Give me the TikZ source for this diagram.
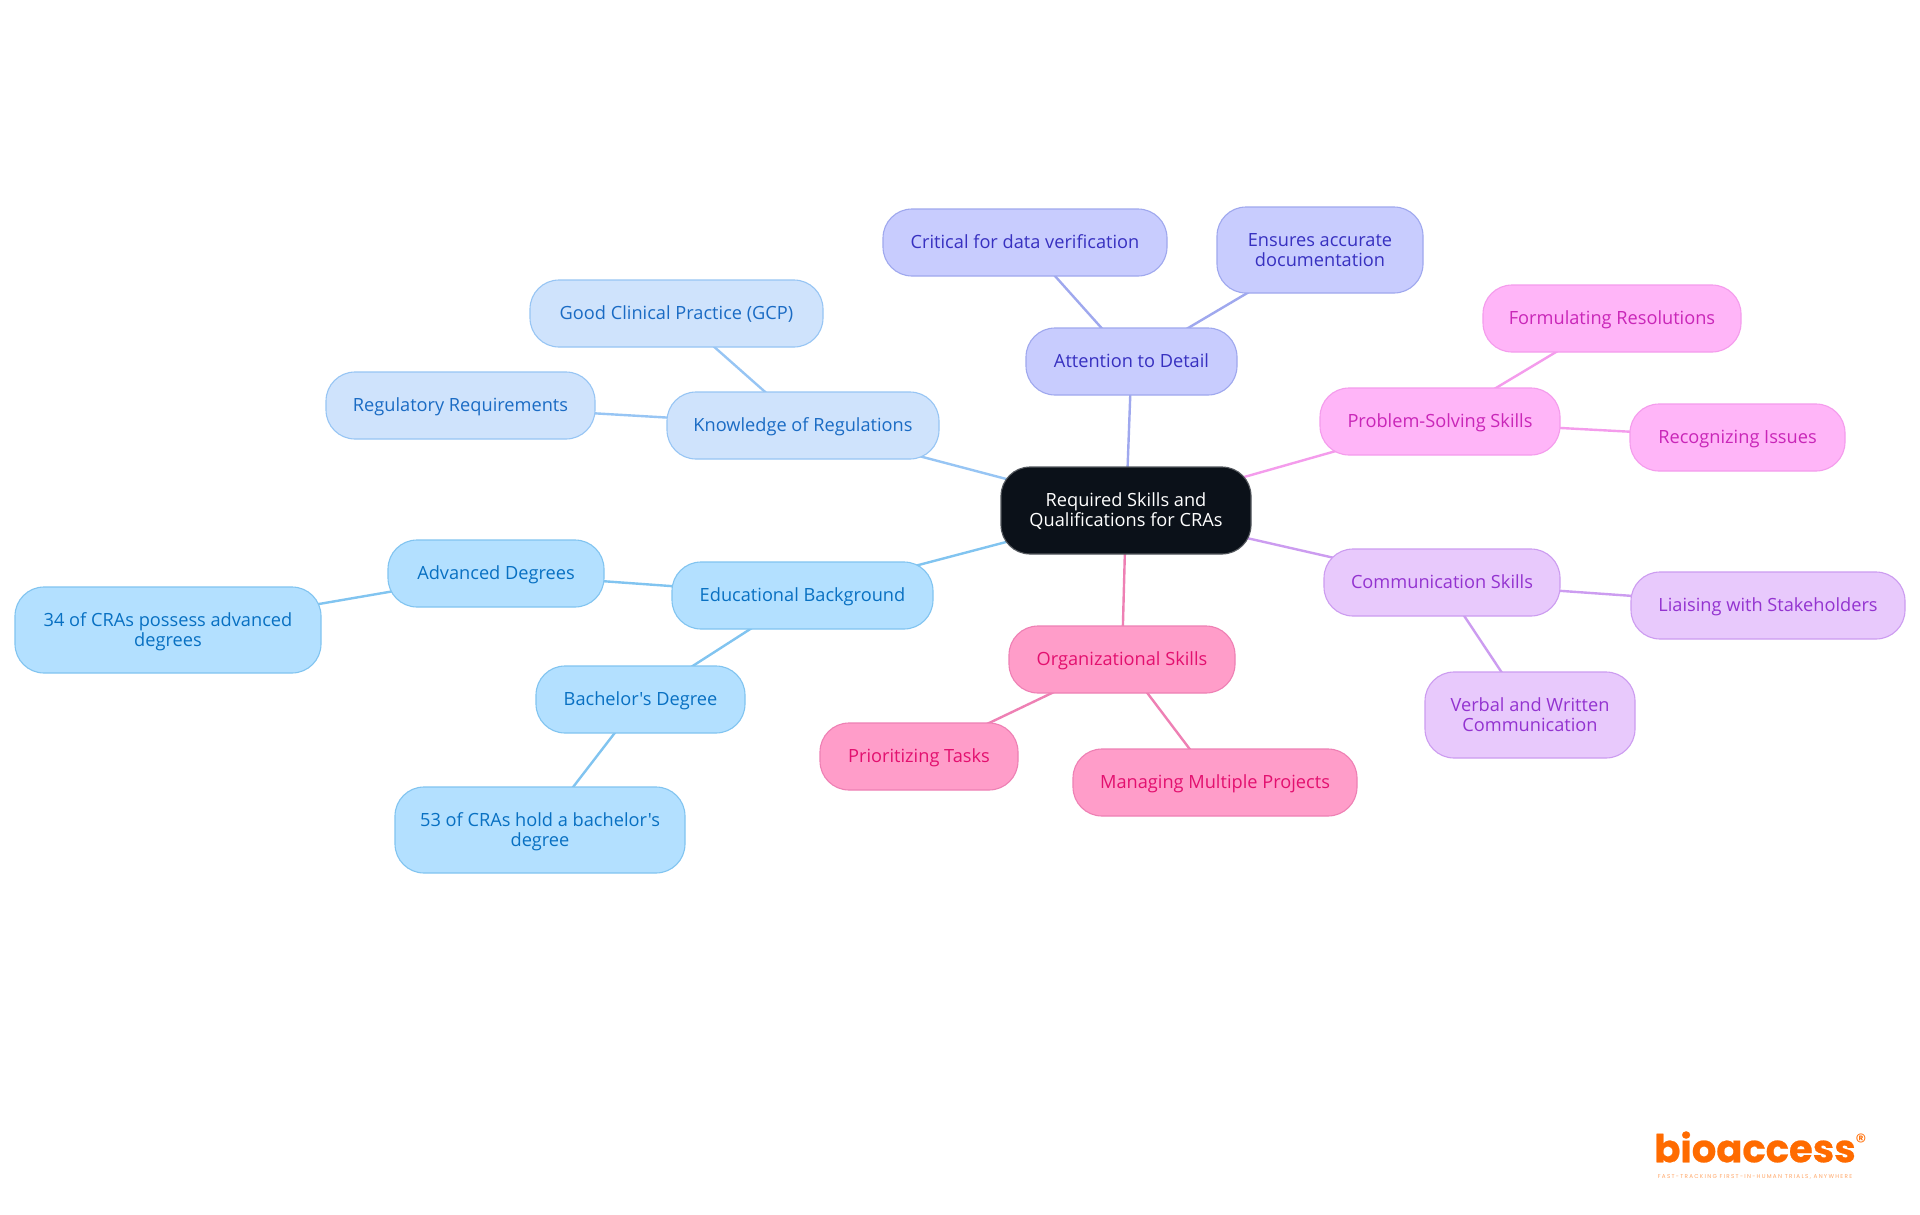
\documentclass[tikz,border=0pt]{standalone}
\usepackage{fontspec}
\setmainfont{Open Sans}
\newfontfamily\boxfont{Open Sans}
\newfontfamily\logofont[BoldFeatures={FakeBold=0.6}]{Poppins}
\newfontfamily\tagfont[LetterSpace=23]{Poppins}
\usetikzlibrary{backgrounds}
\definecolor{rootfill}{HTML}{0B1119}
\definecolor{eduF}{HTML}{B3E0FF}\definecolor{eduS}{HTML}{81C4F0}\definecolor{eduT}{HTML}{0870C2}
\definecolor{regF}{HTML}{CFE3FC}\definecolor{regS}{HTML}{97C5F4}\definecolor{regT}{HTML}{1A6BC4}
\definecolor{attF}{HTML}{C8CCFE}\definecolor{attS}{HTML}{9FA8EE}\definecolor{attT}{HTML}{3730C0}
\definecolor{proF}{HTML}{FFB5F8}\definecolor{proS}{HTML}{F49CEC}\definecolor{proT}{HTML}{C926B8}
\definecolor{comF}{HTML}{E8C9FC}\definecolor{comS}{HTML}{CC9CF0}\definecolor{comT}{HTML}{9333D0}
\definecolor{orgF}{HTML}{FF9DC9}\definecolor{orgS}{HTML}{EE80B4}\definecolor{orgT}{HTML}{E3106F}
\definecolor{logoC}{HTML}{FF6B00}
\newcommand{\st}{\rule[-6pt]{0pt}{24pt}}
\normallineskiplimit=-100pt
\lineskiplimit=-100pt
\tikzset{
  box/.style={draw,rounded corners=29pt,inner sep=0pt,outer sep=0pt,line width=1.1pt,align=center,
    font=\boxfont\fontsize{18.2}{20}\selectfont},
  rootbox/.style={box,fill=rootfill,draw=rootfill!70!white,text=white},
  edu/.style={box,fill=eduF,draw=eduS,text=eduT},
  reg/.style={box,fill=regF,draw=regS,text=regT},
  att/.style={box,fill=attF,draw=attS,text=attT},
  pro/.style={box,fill=proF,draw=proS,text=proT},
  com/.style={box,fill=comF,draw=comS,text=comT},
  org/.style={box,fill=orgF,draw=orgS,text=orgT},
  link/.style={line width=2.4pt},
}
\newcommand{\bx}[7]{\node[#6,minimum width={(#4-#2)*1pt},minimum height={(#5-#3)*1pt}] (#1) at ({(#2+#4)/2},{(#3+#5)/2}) {#7};}
\newcommand{\lk}[3]{\draw[link,draw=#1] (#2.center) -- (#3.center);}
\begin{document}
\begin{tikzpicture}[x=1pt,y=-1pt]
\useasboundingbox (0,0) rectangle (1920,1215);
\bx{root}{1001}{467}{1251}{554}{rootbox}{\st Required Skills and\\\st Qualifications for CRAs}
\bx{att}{1026}{328}{1237}{395}{att}{\st Attention to Detail}
\bx{crit}{883}{209}{1167}{276}{att}{\st Critical for data verification}
\bx{ens}{1217}{207}{1423}{293}{att}{\st Ensures accurate\\\st documentation}
\bx{know}{667}{392}{939}{459}{reg}{\st Knowledge of Regulations}
\bx{gcp}{530}{280}{823}{347}{reg}{\st Good Clinical Practice (GCP)}
\bx{regreq}{326}{372}{595}{439}{reg}{\st Regulatory Requirements}
\bx{edub}{672}{562}{933}{629}{edu}{\st Educational Background}
\bx{adv}{388}{540}{604}{607}{edu}{\st Advanced Degrees}
\bx{p34}{15}{587}{321}{673}{edu}{\st 34 of CRAs possess advanced\\\st degrees}
\bx{bach}{536}{666}{745}{733}{edu}{\st Bachelor's Degree}
\bx{p53}{395}{787}{685}{873}{edu}{\st 53 of CRAs hold a bachelor's\\\st degree}
\bx{orgs}{1009}{626}{1235}{693}{org}{\st Organizational Skills}
\bx{prio}{820}{723}{1018}{790}{org}{\st Prioritizing Tasks}
\bx{mana}{1073}{749}{1357}{816}{org}{\st Managing Multiple Projects}
\bx{prob}{1320}{388}{1560}{455}{pro}{\st Problem-Solving Skills}
\bx{form}{1483}{285}{1741}{352}{pro}{\st Formulating Resolutions}
\bx{reco}{1630}{404}{1845}{471}{pro}{\st Recognizing Issues}
\bx{comm}{1324}{549}{1560}{616}{com}{\st Communication Skills}
\bx{liai}{1631}{572}{1905}{639}{com}{\st Liaising with Stakeholders}
\bx{verb}{1425}{672}{1635}{758}{com}{\st Verbal and Written\\\st Communication}
\node[inner sep=0pt,text=logoC,font=\logofont\bfseries\fontsize{38.5}{40}\selectfont] (logo) at (1755,1147) {bioaccess};
\node[inner sep=0pt,text=logoC,font=\logofont\fontsize{22}{24}\selectfont] (regmark) at (1861,1142) {®};
\node[inner sep=0pt,text=logoC!60!white,font=\tagfont\fontsize{5.6}{6}\selectfont] (tag) at (1755,1177) {FAST-TRACKING FIRST-IN-HUMAN TRIALS, ANYWHERE};
\begin{scope}[on background layer]
\fill[white] (0,0) rectangle (1920,1215);
\lk{attS}{root}{att}\lk{attS}{att}{crit}\lk{attS}{att}{ens}
\lk{regS}{root}{know}\lk{regS}{know}{gcp}\lk{regS}{know}{regreq}
\lk{eduS}{root}{edub}\lk{eduS}{edub}{adv}\lk{eduS}{adv}{p34}\lk{eduS}{edub}{bach}\lk{eduS}{bach}{p53}
\lk{orgS}{root}{orgs}\lk{orgS}{orgs}{prio}\lk{orgS}{orgs}{mana}
\lk{proS}{root}{prob}\lk{proS}{prob}{form}\lk{proS}{prob}{reco}
\lk{comS}{root}{comm}\lk{comS}{comm}{liai}\lk{comS}{comm}{verb}
\end{scope}
\end{tikzpicture}
\end{document}
